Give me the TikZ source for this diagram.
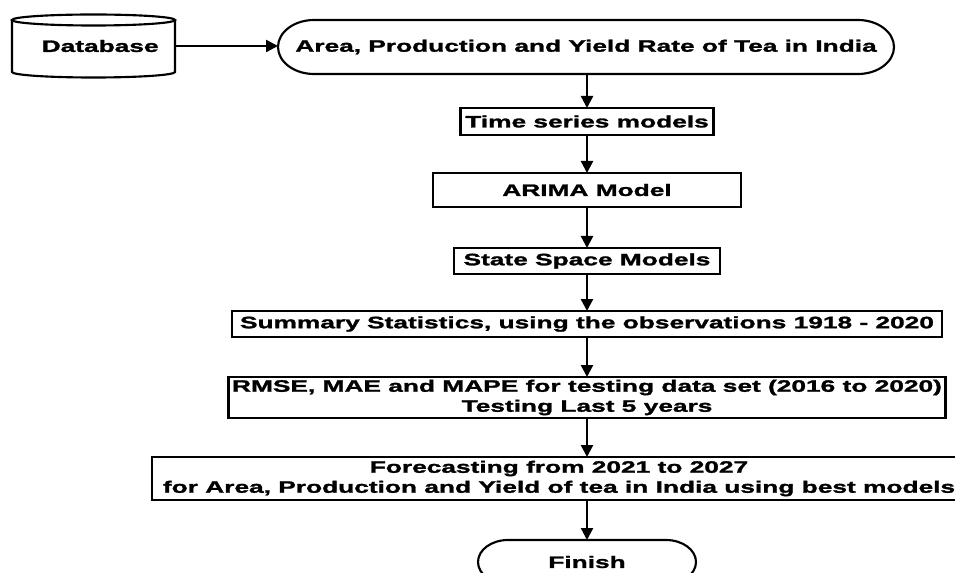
\documentclass[tikz,border=0pt]{standalone}
\usepackage{fontspec}
\newfontfamily\flowfont{Liberation Sans}[FakeStretch=1.59, FakeBold=1.6]
\usetikzlibrary{arrows.meta}

\begin{document}
\begin{tikzpicture}[x=0.75pt, y=-0.75pt]
	\tikzstyle{every node}=[align=center, inner sep=1pt, outer sep=0pt, font=\flowfont\bfseries\fontsize{12.4}{15}\selectfont]
	\tikzstyle{box}=[draw, line width=1.6pt]
	\tikzstyle{flow}=[line width=1.8pt, -{Triangle[length=9pt, width=9pt]}]
	\useasboundingbox (0,0) rectangle (955,573);

	% source and data
	\node (db) at (93.5, 46) [minimum width=122.25pt, minimum height=39pt] {\hspace{10pt}Database};
	\node (src) at (586, 47) [minimum width=462pt, minimum height=40.5pt] {Area, Production and Yield Rate of Tea in India};
	\draw[box] (db.north west) -- (db.south west) arc[start angle=180, end angle=0, x radius=81.5, y radius=5.5] -- (db.north east);
	\draw[box] (db.north) ellipse [x radius=81.5, y radius=5.5];
	\draw[box] ([xshift=27pt]src.north west) -- ([xshift=-27pt]src.north east)
		arc[start angle=-90, end angle=90, x radius=36, y radius=27] -- ([xshift=27pt]src.south west)
		arc[start angle=90, end angle=270, x radius=36, y radius=27] -- cycle;

	% models
	\node[box] (ts) at (587, 121.5) [minimum width=189.75pt, minimum height=20.25pt] {Time series models};
	\node[box] (arima) at (587, 190) [minimum width=231pt, minimum height=25.5pt] {ARIMA Model};
	\node[box] (ssm) at (587, 261) [minimum width=199.5pt, minimum height=19.5pt] {State Space Models};
	\node[box] (summ) at (587, 324) [minimum width=532.5pt, minimum height=19.5pt] {Summary Statistics, using the observations 1918 - 2020};
	\node[box] (rmse) at (587, 397.5) [minimum width=537.75pt, minimum height=30.75pt] {RMSE, MAE and MAPE for testing data set (2016 to 2020)\\Testing Last 5 years};
	\node[box] (fc) at (559, 478.5) [minimum width=610.5pt, minimum height=32.25pt] {Forecasting from 2021 to 2027\\for Area, Production and Yield of tea in India using best models};

	% end
	\node (fin) at (587, 562) [minimum width=163.5pt, minimum height=33pt] {Finish};
	\draw[box] ([xshift=22.5pt]fin.north west) -- ([xshift=-22.5pt]fin.north east)
		arc[start angle=-90, end angle=90, x radius=30, y radius=22] -- ([xshift=22.5pt]fin.south west)
		arc[start angle=90, end angle=270, x radius=30, y radius=22] -- cycle;

	\draw[flow] (db.east) -- (db.east -| src.west);
	\draw[flow] (src.south -| ts) -- (ts);
	\draw[flow] (ts) -- (arima);
	\draw[flow] (arima) -- (ssm);
	\draw[flow] (ssm) -- (summ);
	\draw[flow] (summ) -- (rmse);
	\draw[flow] (rmse) -- (rmse |- fc.north);
	\draw[flow] (fin |- fc.south) -- (fin);
\end{tikzpicture}
\end{document}
